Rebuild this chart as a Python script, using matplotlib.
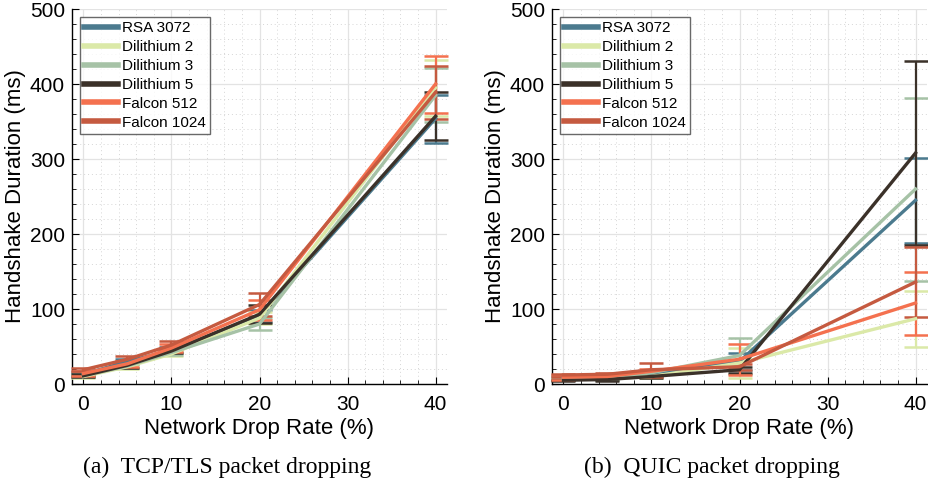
import matplotlib
matplotlib.use("Agg")
import matplotlib.pyplot as plt
from matplotlib.ticker import MultipleLocator
from matplotlib.lines import Line2D

plt.rcParams['font.family'] = ['Liberation Sans', 'DejaVu Sans']

drop_rate = [0, 5, 10, 20, 40]
series_names = ["RSA 3072", "Dilithium 2", "Dilithium 3", "Dilithium 5", "Falcon 512", "Falcon 1024"]
colors = ["#4b7a8e", "#dbe9a8", "#a6c2a6", "#3b3129", "#f4714f", "#c55a40"]

# TCP/TLS packet dropping (mean, error)
tcp_rsa = [13, 30, 45, 91, 354]
tcp_dil2 = [10, 23, 40, 88, 395]
tcp_dil3 = [11, 24, 42, 80, 385]
tcp_dil5 = [11, 25, 44, 93, 357]
tcp_fal512 = [14, 27, 48, 99, 400]
tcp_fal1024 = [19, 33, 52, 106, 389]
tcp_rsa_err = [3, 3, 4, 8, 32]
tcp_dil2_err = [2, 3, 3, 8, 37]
tcp_dil3_err = [2, 3, 3, 8, 36]
tcp_dil5_err = [2, 3, 3, 12, 32]
tcp_fal512_err = [3, 4, 5, 13, 38]
tcp_fal1024_err = [2, 4, 5, 15, 35]

# QUIC packet dropping (mean, error)
quic_rsa = [8, 8, 14, 30, 245]
quic_dil2 = [6, 7, 10, 28, 87]
quic_dil3 = [7, 8, 15, 38, 260]
quic_dil5 = [5, 6, 10, 19, 308]
quic_fal512 = [9, 10, 17, 33, 108]
quic_fal1024 = [12, 13, 19, 23, 136]
quic_rsa_err = [2, 2, 3, 11, 57]
quic_dil2_err = [1, 2, 2, 20, 37]
quic_dil3_err = [2, 2, 3, 24, 122]
quic_dil5_err = [1, 2, 2, 4, 123]
quic_fal512_err = [3, 2, 3, 21, 42]
quic_fal1024_err = [2, 2, 9, 4, 47]

tcp_means = [tcp_rsa, tcp_dil2, tcp_dil3, tcp_dil5, tcp_fal512, tcp_fal1024]
tcp_errs = [tcp_rsa_err, tcp_dil2_err, tcp_dil3_err, tcp_dil5_err, tcp_fal512_err, tcp_fal1024_err]
quic_means = [quic_rsa, quic_dil2, quic_dil3, quic_dil5, quic_fal512, quic_fal1024]
quic_errs = [quic_rsa_err, quic_dil2_err, quic_dil3_err, quic_dil5_err, quic_fal512_err, quic_fal1024_err]

x_ticks = [0, 10, 20, 30, 40]
y_ticks = [0, 100, 200, 300, 400, 500]
captions = ["(a)  TCP/TLS packet dropping", "(b)  QUIC packet dropping"]

fig = plt.figure(figsize=(9.29, 4.86), dpi=100)
ax1 = fig.add_axes([72/929, 102/486, 375/929, 375/486])
ax2 = fig.add_axes([552/929, 102/486, 375/929, 375/486])

for ax, means, errs, cap in [(ax1, tcp_means, tcp_errs, captions[0]),
                             (ax2, quic_means, quic_errs, captions[1])]:
    for name, c, m, e in zip(series_names, colors, means, errs):
        ax.errorbar(drop_rate, m, yerr=e, color=c, lw=2.4, elinewidth=1.6,
                    capsize=8.5, capthick=1.8, clip_on=False, zorder=3)
    ax.set_xlim(-1.3, 41.3)
    ax.set_ylim(0, 500)
    ax.set_xticks(x_ticks)
    ax.set_yticks(y_ticks)
    ax.xaxis.set_minor_locator(MultipleLocator(2))
    ax.yaxis.set_minor_locator(MultipleLocator(20))
    ax.grid(True, which='major', color='#e3e3e3', lw=0.9, zorder=0)
    ax.grid(True, which='minor', color='#d6d6d6', lw=0.7, ls=(0, (1, 3)), zorder=0)
    ax.set_axisbelow(True)
    ax.tick_params(which='both', direction='in', labelsize=15, colors='black')
    ax.tick_params(which='major', length=5)
    ax.tick_params(which='minor', length=3)
    ax.tick_params(axis='x', pad=8)
    ax.tick_params(axis='y', pad=5)
    for s in ['top', 'right']:
        ax.spines[s].set_visible(False)
    for s in ['left', 'bottom']:
        ax.spines[s].set_linewidth(1.0)
    ax.set_xlabel("Network Drop Rate (%)", fontsize=16, labelpad=3)
    ax.set_ylabel("Handshake Duration (ms)", fontsize=16, labelpad=3)
    handles = [Line2D([], [], color=c, lw=4) for c in colors]
    leg = ax.legend(handles, series_names, loc='upper left', fontsize=11, frameon=True,
                    fancybox=False, handlelength=2.2, handletextpad=0.25, labelspacing=0.32,
                    borderpad=0.3, borderaxespad=0.5)
    leg.get_frame().set_edgecolor('#444444')
    leg.get_frame().set_linewidth(1.0)

fig.text(227/929, 1 - 467/486, captions[0], ha='center', va='center',
         fontsize=17, family=['Liberation Serif', 'DejaVu Serif'])
fig.text(712/929, 1 - 467/486, captions[1], ha='center', va='center',
         fontsize=17, family=['Liberation Serif', 'DejaVu Serif'])

fig.savefig("out.png", dpi=100)
